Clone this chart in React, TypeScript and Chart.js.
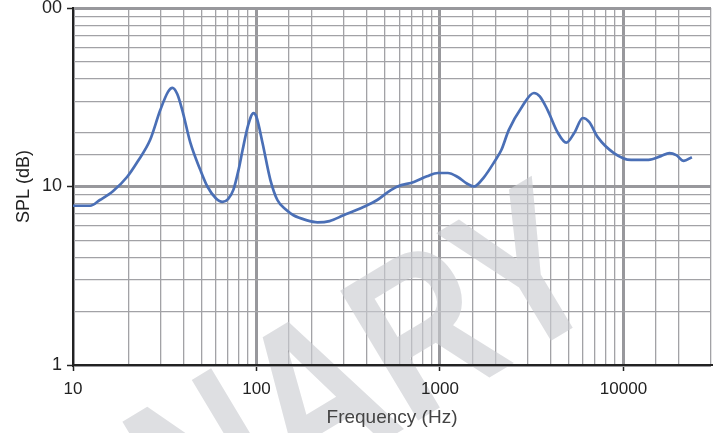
import React, { useEffect, useRef } from 'react';
import { Chart, registerables } from 'chart.js';

Chart.register(...registerables);

// Frequency (Hz) and SPL (dB)
const freqHz = [
  10, 12.4, 14, 16.5, 19.7, 22.5, 26.3, 29.9, 33, 34.8, 37, 39.4, 43.6, 49.4, 54, 60, 65.3, 70,
  74.9, 80, 84, 90, 96.3, 100, 107.8, 119, 130, 145, 159, 185, 215, 250, 298, 385, 455, 520, 587,
  721, 850, 974, 1104, 1250, 1400, 1530, 1740, 2000, 2160, 2370, 2800, 3250, 3500, 3860, 4390,
  4880, 5400, 6000, 6500, 7240, 8870, 11000, 13700, 16000, 17800, 19400, 21300, 23600,
];
const splDb = [
  7.8, 7.8, 8.4, 9.4, 11.3, 13.8, 18.2, 26.8, 34, 35.7, 33, 26.8, 17.6, 12.4, 10, 8.6, 8.2, 8.5,
  9.6, 12.5, 16, 22, 25.8, 24.5, 17.6, 10.9, 8.4, 7.4, 6.9, 6.5, 6.3, 6.4, 6.9, 7.7, 8.4, 9.3, 10,
  10.6, 11.4, 11.9, 11.9, 11.3, 10.4, 10, 11.3, 14, 16, 20.7, 28, 33.4, 32, 26.8, 20,
  17.6, 20, 24.2, 23, 18.9, 15.4, 14.1, 14.1, 14.8, 15.4, 15, 13.9, 14.6,
];

const xRange = [10, 30000];
const yRange = [1, 100];
const yTickLabels: Record<string, string> = { '1': '1', '10': '10', '100': '00' };
const xTitle = 'Frequency (Hz)';
const yTitle = 'SPL (dB)';
const watermarkText = 'PRELIMINARY';

function isMajor(v: number | undefined): boolean {
  if (v === undefined || v <= 0) return false;
  const l = Math.log10(v);
  return Math.abs(l - Math.round(l)) < 1e-6;
}

function paintWatermark(ctx: CanvasRenderingContext2D, fill: string) {
  ctx.translate(612, 304);
  ctx.rotate((-31 * Math.PI) / 180);
  ctx.scale(0.8, 1);
  ctx.font = 'bold 220px "Liberation Sans", Arial, sans-serif';
  ctx.textAlign = 'right';
  ctx.textBaseline = 'alphabetic';
  ctx.fillStyle = fill;
  ctx.fillText(watermarkText, 0, 0);
}

const watermarkPlugin = {
  id: 'watermark',
  beforeDraw(chart: any) {
    const ctx = chart.ctx as CanvasRenderingContext2D;
    const a = chart.chartArea;
    ctx.save();
    ctx.beginPath();
    ctx.rect(0, 0, chart.width, chart.height);
    ctx.rect(a.left, a.top, a.right - a.left, a.bottom - a.top);
    ctx.clip('evenodd');
    paintWatermark(ctx, 'rgb(222,223,226)');
    ctx.restore();
  },
  beforeDatasetsDraw(chart: any) {
    const ctx = chart.ctx as CanvasRenderingContext2D;
    const a = chart.chartArea;
    ctx.save();
    ctx.beginPath();
    ctx.rect(a.left + 1, a.top, a.right - a.left - 1, a.bottom - a.top - 1);
    ctx.clip();
    paintWatermark(ctx, 'rgba(202,204,208,0.64)');
    ctx.restore();
  },
};

export default function App() {
  const canvasRef = useRef<HTMLCanvasElement | null>(null);

  useEffect(() => {
    document.body.style.margin = '0';
    const canvas = canvasRef.current;
    if (!canvas) return;

    const gridOpts = {
      color: (c: any) => (isMajor(c.tick?.value) ? '#98989c' : '#a2a2a6'),
      lineWidth: (c: any) => (isMajor(c.tick?.value) ? 3 : 1.3),
      tickLength: 6,
      tickColor: (c: any) => (isMajor(c.tick?.value) ? '#222' : 'rgba(0,0,0,0)'),
      tickWidth: 1.5,
      drawTicks: true,
    };

    const chart = new Chart(canvas, {
      type: 'line',
      data: {
        datasets: [
          {
            data: freqHz.map((f, i) => ({ x: f, y: splDb[i] })),
            borderColor: '#4a6fb6',
            borderWidth: 2.7,
            pointRadius: 0,
            fill: false,
            cubicInterpolationMode: 'monotone',
          },
        ],
      },
      options: {
        animation: false,
        responsive: true,
        maintainAspectRatio: false,
        layout: { padding: { top: 8, right: 10, left: 0, bottom: 0 } },
        plugins: { legend: { display: false }, tooltip: { enabled: false } },
        scales: {
          x: {
            type: 'logarithmic',
            min: xRange[0],
            max: xRange[1],
            position: 'bottom',
            afterFit: (s: any) => {
              s.height = 68;
              s.paddingLeft = 0;
              s.paddingRight = 0;
            },
            grid: gridOpts as any,
            border: { color: '#222', width: 2 },
            ticks: {
              autoSkip: false,
              maxRotation: 0,
              padding: 8,
              color: '#222',
              font: { family: '"Liberation Sans", Arial, sans-serif', size: 17 },
              callback: (v: any) => (isMajor(Number(v)) ? String(Number(v)) : ''),
            },
            title: {
              display: true,
              text: xTitle,
              color: '#444',
              font: { family: '"Liberation Sans", Arial, sans-serif', size: 19 },
              padding: { top: 0, bottom: 4 },
            },
          },
          y: {
            type: 'logarithmic',
            min: yRange[0],
            max: yRange[1],
            afterFit: (s: any) => {
              s.width = 73;
              s.paddingTop = 0;
              s.paddingBottom = 0;
            },
            grid: gridOpts as any,
            border: { color: '#222', width: 2 },
            ticks: {
              autoSkip: false,
              padding: 5,
              color: '#222',
              font: { family: '"Liberation Sans", Arial, sans-serif', size: 18 },
              callback: (v: any) => yTickLabels[String(Number(v))] ?? '',
            },
            title: {
              display: true,
              text: yTitle,
              color: '#222',
              font: { family: '"Liberation Sans", Arial, sans-serif', size: 18 },
              padding: { top: 13, bottom: 0 },
            },
          },
        },
      },
      plugins: [watermarkPlugin],
    } as any);

    return () => chart.destroy();
  }, []);

  return (
    <div style={{ position: 'relative', width: 721, height: 433 }}>
      <canvas ref={canvasRef} />
    </div>
  );
}
